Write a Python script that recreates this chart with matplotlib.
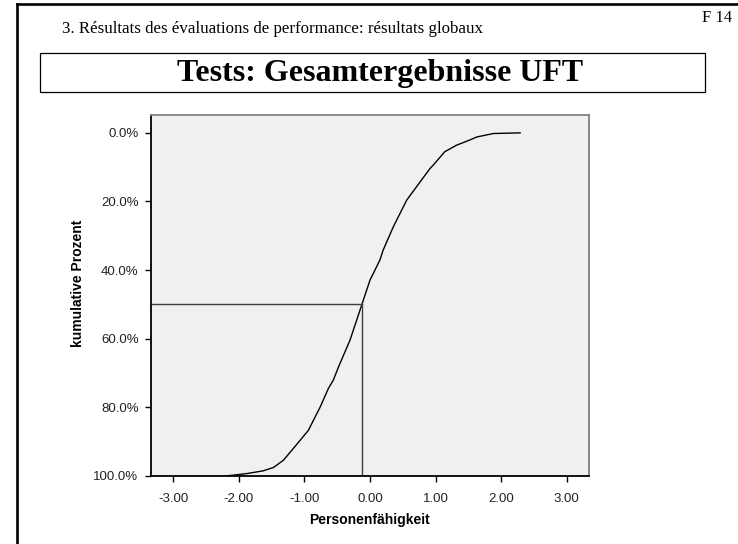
import matplotlib.pyplot as plt
from matplotlib.lines import Line2D
from matplotlib.patches import Rectangle

# Werte
faehigkeit = [-2.20, -1.88, -1.63, -1.47, -1.32, -1.17, -0.94, -0.76, -0.635, -0.56,
              -0.48, -0.305, -0.127, 0.0, 0.05, 0.15, 0.20, 0.355, 0.56, 0.71,
              0.915, 0.965, 1.14, 1.32, 1.52, 1.63, 1.88, 2.29]
kumulativ = [100.0, 99.3, 98.5, 97.5, 95.4, 92.0, 86.7, 79.9, 74.5, 72.1,
             68.2, 60.4, 50.2, 42.9, 41.0, 37.1, 34.2, 27.4, 19.6, 15.7,
             10.4, 9.4, 5.5, 3.6, 2.1, 1.2, 0.2, 0.0]
median_x = -0.127
median_y = 50.0
x_ticks = [-3, -2, -1, 0, 1, 2, 3]
y_ticks = [0, 20, 40, 60, 80, 100]

fig = plt.figure(figsize=(7.38, 5.44), dpi=100)

# Seitenrahmen
fig.add_artist(Line2D([0.023, 1.0], [0.9926, 0.9926], color='black', lw=1.9))
fig.add_artist(Line2D([0.023, 0.023], [0.0, 0.9926], color='black', lw=1.9))

fig.text(0.084, 1 - 29 / 544, '3. Résultats des évaluations de performance: résultats globaux',
         family='Liberation Serif', fontsize=12.2, va='center', ha='left')
fig.text(732 / 738, 1 - 18 / 544, 'F 14', family='Liberation Serif', fontsize=12,
         va='center', ha='right')

fig.add_artist(Rectangle((40 / 738, 1 - 92 / 544), 665 / 738, 39 / 544,
                         fill=False, edgecolor='black', lw=0.9))
fig.text(380 / 738, 1 - 73 / 544, 'Tests: Gesamtergebnisse UFT', family='Liberation Serif',
         fontsize=23, fontweight='bold', ha='center', va='center')

ax = fig.add_axes([151 / 738, 1 - 476 / 544, 438 / 738, 361 / 544])
ax.set_facecolor('#f0f0f0')
ax.plot(faehigkeit, kumulativ, color='black', lw=1.0)
ax.plot([-3.34, median_x], [median_y, median_y], color='#404040', lw=1.0)
ax.plot([median_x, median_x], [median_y, 100], color='#404040', lw=1.0)

ax.set_xlim(-3.34, 3.34)
ax.set_ylim(100, -5.2)
ax.set_xticks(x_ticks)
ax.set_xticklabels([f'{v:.2f}' for v in x_ticks])
ax.set_yticks(y_ticks)
ax.set_yticklabels([f'{v:.1f}%' for v in y_ticks])
ax.tick_params(direction='out', length=4, width=1, color='black', labelsize=9.5,
               labelcolor='#222222', pad=5)
ax.tick_params(axis='x', pad=8)
for lab in ax.get_xticklabels() + ax.get_yticklabels():
    lab.set_family('Liberation Sans')

ax.set_xlabel('Personenfähigkeit', family='Liberation Sans', fontsize=10, fontweight='bold')
ax.set_ylabel('kumulative Prozent', family='Liberation Sans', fontsize=10, fontweight='bold')
ax.xaxis.set_label_coords(0.5, -0.103)
ax.yaxis.set_label_coords(-0.151, 0.535)

ax.spines['left'].set_color('black')
ax.spines['bottom'].set_color('black')
ax.spines['top'].set_color('#808080')
ax.spines['right'].set_color('#808080')
for s in ax.spines.values():
    s.set_linewidth(1.3)

fig.savefig('out.png', dpi=100)
